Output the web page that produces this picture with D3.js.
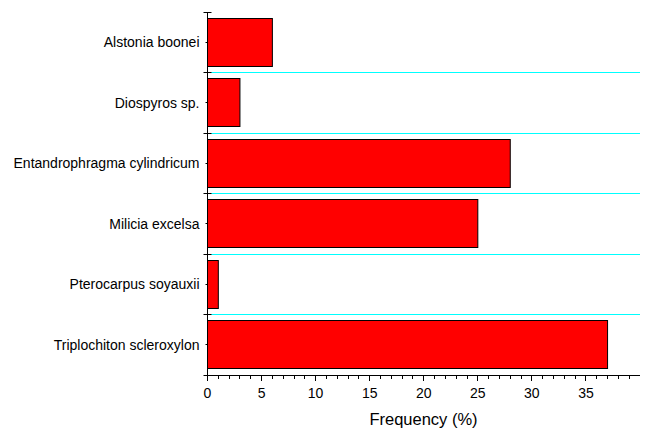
<!DOCTYPE html>
<html>
<head>
<meta charset="utf-8">
<script src="https://cdn.jsdelivr.net/npm/d3@7"></script>
<style>
  html, body { margin: 0; padding: 0; background: #fff; }
  svg { display: block; font-family: "Liberation Sans", Arial, sans-serif; }
</style>
</head>
<body>
<svg id="chart" width="645" height="429"></svg>
<script>
// Tree species and their frequency (%)
const species = [
  "Alstonia boonei",
  "Diospyros sp.",
  "Entandrophragma cylindricum",
  "Milicia excelsa",
  "Pterocarpus soyauxii",
  "Triplochiton scleroxylon"
];
const frequency = [6, 3, 28, 25, 1, 37];
const xTickValues = [0, 5, 10, 15, 20, 25, 30, 35];
const xMinorTicks = d3.range(0, 41, 1);
const xTitle = "Frequency (%)";

const svg = d3.select("#chart");
const plotLeft = 207.5, plotRight = 640, plotTop = 12, plotBottom = 375;

const x = d3.scaleLinear().domain([0, 40]).range([plotLeft, plotRight]);
const y = d3.scaleBand().domain(species).range([plotTop, plotBottom])
  .paddingInner(0.2).paddingOuter(0.1);
const step = y.step();
const boundaries = d3.range(0, species.length + 1).map(i => plotTop + i * step);
const snap = v => Math.floor(v) + 0.5;

// cyan separators between categories
svg.append("g").selectAll("line")
  .data(boundaries.slice(1, -1))
  .join("line")
  .attr("x1", plotLeft).attr("x2", plotRight)
  .attr("y1", d => snap(d)).attr("y2", d => snap(d))
  .attr("stroke", "#00ffff").attr("stroke-width", 1.2);

// bars
svg.append("g").selectAll("rect")
  .data(species.map((s, i) => ({ s, v: frequency[i] })))
  .join("rect")
  .attr("x", x(0))
  .attr("y", d => snap(y(d.s)))
  .attr("width", d => x(d.v) - x(0))
  .attr("height", Math.round(y.bandwidth()))
  .attr("fill", "#ff0000")
  .attr("stroke", "#000").attr("stroke-width", 1);

// y axis line and ticks
const axisG = svg.append("g").attr("stroke", "#000").attr("stroke-width", 1);
axisG.append("line")
  .attr("x1", plotLeft).attr("x2", plotLeft).attr("y1", plotTop).attr("y2", snap(plotBottom));
axisG.selectAll("line.yb")
  .data(boundaries)
  .join("line").attr("class", "yb")
  .attr("x1", plotLeft - 4).attr("x2", plotLeft + 4)
  .attr("y1", d => snap(d)).attr("y2", d => snap(d));
axisG.selectAll("line.ym")
  .data(species)
  .join("line").attr("class", "ym")
  .attr("x1", plotLeft - 2).attr("x2", plotLeft)
  .attr("y1", d => snap(y(d) + y.bandwidth() / 2))
  .attr("y2", d => snap(y(d) + y.bandwidth() / 2));

// category labels
svg.append("g").selectAll("text")
  .data(species)
  .join("text")
  .attr("x", plotLeft - 8)
  .attr("y", d => y(d) + y.bandwidth() / 2)
  .attr("dy", "0.35em")
  .attr("text-anchor", "end")
  .attr("font-size", 14)
  .attr("fill", "#000")
  .text(d => d);

// x axis line, major and minor ticks
axisG.append("line")
  .attr("x1", plotLeft - 2).attr("x2", plotRight)
  .attr("y1", snap(plotBottom)).attr("y2", snap(plotBottom));
axisG.selectAll("line.xm")
  .data(xMinorTicks.filter(v => v % 5 !== 0))
  .join("line").attr("class", "xm")
  .attr("x1", d => snap(x(d))).attr("x2", d => snap(x(d)))
  .attr("y1", plotBottom).attr("y2", plotBottom + 4);
axisG.selectAll("line.xM")
  .data(xTickValues)
  .join("line").attr("class", "xM")
  .attr("x1", d => snap(x(d))).attr("x2", d => snap(x(d)))
  .attr("y1", plotBottom).attr("y2", plotBottom + 6);

svg.append("g").selectAll("text")
  .data(xTickValues)
  .join("text")
  .attr("x", d => x(d))
  .attr("y", 398)
  .attr("text-anchor", "middle")
  .attr("font-size", 14)
  .attr("fill", "#000")
  .text(d => d);

svg.append("text")
  .attr("x", (368 + 479) / 2)
  .attr("y", 425)
  .attr("text-anchor", "middle")
  .attr("font-size", 16.5)
  .attr("fill", "#000")
  .text(xTitle);
</script>
</body>
</html>
